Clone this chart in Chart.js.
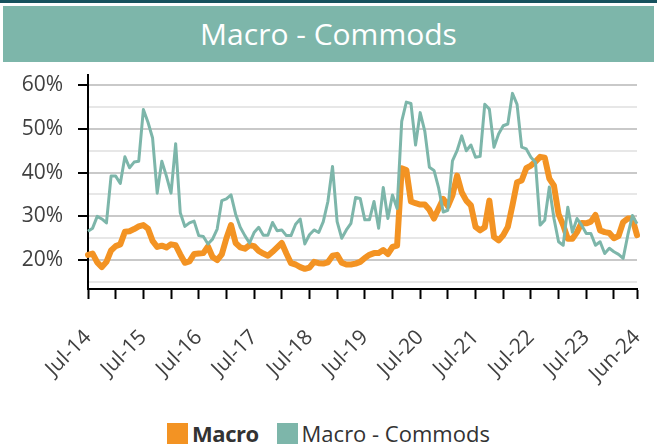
<!DOCTYPE html>
<html>
<head>
<meta charset="utf-8">
<script src="https://cdn.jsdelivr.net/npm/chart.js@4.4.1/dist/chart.umd.min.js"></script>
<style>
    body {
        margin: 0;
        width: 657px;
        height: 447px;
        background: #ffffff;
        overflow: hidden;
        position: relative;
        font-family: 'Open Sans', sans-serif;
    }
    .top-rule {
        position: absolute; left: 0; top: 0;
        width: 657px; height: 3px;
        background: #17525e;
    }
    .banner {
        position: absolute; left: 3px; top: 6px;
        width: 651px; height: 56px;
        background: #7db6aa;
        color: #ffffff;
        font-size: 30px;
        line-height: 56px;
        text-align: center;
    }
    .chart-box {
        position: absolute; left: 0; top: 62px;
        width: 657px; height: 340px;
    }
    .chart-legend {
        position: absolute; left: 0; top: 418px;
        width: 657px;
        display: flex; justify-content: center; align-items: center;
        font-size: 22px; color: #333333;
    }
    .chart-legend-item { display: flex; align-items: center; margin: 0 9px; }
    .chart-legend-color { width: 21px; height: 21px; margin-right: 4px; }
    .chart-legend-item.bold .chart-legend-label { font-weight: 700; letter-spacing: -0.5px; }
</style>
</head>
<body>
<div class="top-rule"></div>
<div class="banner">Macro - Commods</div>
<div class="chart-box"><canvas id="macro-commods-chart"></canvas></div>
<div class="chart-legend" id="macro-commods-legend"></div>

<script>
// Monthly series, Jul-14 .. Jun-24 (percent)
const MACRO = [
    21.2, 21.5, 19.5, 18.4, 19.6, 22.2, 23.2, 23.6, 26.5, 26.6, 27.1, 27.7,
    28.0, 27.2, 24.4, 23.0, 23.3, 22.9, 23.6, 23.4, 21.3, 19.4, 19.7, 21.4,
    21.5, 21.6, 23.1, 20.7, 20.0, 21.3, 25.0, 28.0, 23.9, 22.9, 22.6, 23.4,
    23.2, 22.1, 21.5, 21.0, 21.9, 22.9, 23.9, 21.5, 19.3, 19.0, 18.4, 18.0,
    18.3, 19.6, 19.3, 19.2, 19.5, 21.0, 21.2, 19.4, 19.0, 19.0, 19.2, 19.6,
    20.5, 21.2, 21.6, 21.6, 22.3, 21.4, 23.0, 23.3, 41.0, 40.6, 33.4, 33.0,
    32.7, 32.7, 31.5, 29.5, 31.8, 34.0, 32.3, 34.8, 39.3, 35.5, 33.6, 32.5,
    27.6, 26.8, 27.5, 33.6, 25.3, 24.5, 25.7, 27.6, 32.5, 37.8, 38.2, 41.0,
    41.6, 42.5, 43.6, 43.4, 38.6, 37.0, 30.5, 28.0, 24.9, 24.9, 26.4, 28.5,
    28.4, 28.8, 30.3, 26.8, 26.4, 26.2, 25.0, 25.5, 28.7, 29.5, 29.5, 25.7
];

const MACRO_COMMODS = [
    26.6, 27.3, 30.0, 29.4, 28.5, 39.2, 39.2, 37.5, 43.6, 41.1, 42.4, 42.6,
    54.4, 51.5, 47.9, 35.3, 42.6, 39.2, 35.3, 46.6, 30.8, 27.7, 28.5, 28.9,
    25.6, 25.4, 23.7, 24.8, 27.1, 33.6, 34.0, 34.9, 30.5, 27.5, 25.6, 23.9,
    26.3, 27.5, 25.7, 25.7, 28.6, 26.7, 26.9, 25.6, 25.6, 28.2, 29.4, 23.7,
    25.8, 26.9, 26.3, 28.8, 33.4, 41.4, 28.8, 25.0, 26.9, 28.4, 34.3, 34.1,
    29.2, 29.2, 33.4, 27.3, 36.6, 29.5, 34.9, 31.8, 51.7, 56.1, 55.8, 46.3,
    53.7, 49.5, 41.2, 40.5, 36.5, 31.0, 31.4, 42.7, 45.0, 48.4, 45.0, 46.3,
    43.5, 43.7, 55.6, 54.5, 45.8, 48.8, 50.7, 51.1, 58.1, 55.6, 45.8, 45.4,
    43.5, 42.3, 28.0, 29.1, 36.7, 29.5, 24.2, 23.4, 32.1, 26.4, 29.5, 28.0,
    26.1, 26.1, 23.4, 24.2, 21.5, 22.7, 21.9, 21.3, 20.4, 25.7, 30.2, 28.3
];

const TICK_LABELS = ['Jul-14', 'Jul-15', 'Jul-16', 'Jul-17', 'Jul-18', 'Jul-19',
    'Jul-20', 'Jul-21', 'Jul-22', 'Jul-23', 'Jun-24'];

const Y_TICKS = [15, 20, 25, 30, 35, 40, 45, 50, 55, 60];

const COLORS = {
    macro: '#f39323',
    commods: '#7db6aa',
    text: '#404040'
};

const FONT_FAMILY = "'Open Sans', sans-serif";

// month labels Jul-14 .. Jun-24
const MONTH_NAMES = ['Jan', 'Feb', 'Mar', 'Apr', 'May', 'Jun', 'Jul', 'Aug', 'Sep', 'Oct', 'Nov', 'Dec'];
const CATEGORIES = MACRO.map((_, k) => {
    const m = (6 + k) % 12;
    const yy = 14 + Math.floor((6 + k) / 12);
    return MONTH_NAMES[m] + '-' + yy;
});

function isMajor(ctx) {
    return ctx.tick && ctx.tick.value % 10 === 0;
}

const lastIdx = CATEGORIES.length - 1;

// área do gráfico fixa: sem padding automático dos labels
function noAutoPadding(scale) {
    scale.paddingTop = 0;
    scale.paddingBottom = 0;
    scale.paddingLeft = 0;
    scale.paddingRight = 0;
}

new Chart(document.getElementById('macro-commods-chart'), {
    type: 'line',
    data: {
        labels: CATEGORIES,
        datasets: [
            {
                label: 'Macro',
                data: MACRO,
                borderColor: COLORS.macro,
                borderWidth: 6,
                borderJoinStyle: 'round',
                borderCapStyle: 'round',
                pointRadius: 0,
                tension: 0,
                order: 1
            },
            {
                label: 'Macro - Commods',
                data: MACRO_COMMODS,
                borderColor: COLORS.commods,
                borderWidth: 3,
                borderJoinStyle: 'round',
                pointRadius: 0,
                tension: 0,
                order: 0
            }
        ]
    },
    options: {
        responsive: true,
        maintainAspectRatio: false,
        animation: false,
        layout: { padding: { top: 13, right: 20, left: 0, bottom: 0 } },
        plugins: {
            legend: { display: false },   // legenda HTML
            tooltip: { enabled: false }
        },
        scales: {
            x: {
                offset: false,
                grid: {
                    drawOnChartArea: false,
                    tickLength: 10,
                    tickWidth: 2,
                    tickColor: (ctx) => (ctx.index % 6 === 0 || ctx.index === lastIdx) ? '#000000' : 'rgba(0,0,0,0)'
                },
                border: { color: '#000000', width: 2 },
                ticks: {
                    autoSkip: false,
                    maxRotation: 45,
                    minRotation: 45,
                    padding: 26,
                    color: COLORS.text,
                    font: { family: FONT_FAMILY, size: 21 },
                    callback: function(value) {
                        const lab = this.getLabelForValue(value);
                        return TICK_LABELS.includes(lab) ? lab : '';
                    }
                },
                afterFit: (scale) => {
                    scale.height = 113;
                    noAutoPadding(scale);
                }
            },
            y: {
                min: 13.4,
                max: 62.3,
                afterBuildTicks: (scale) => {
                    scale.ticks = Y_TICKS.map(v => ({ value: v }));
                },
                grid: {
                    color: (ctx) => isMajor(ctx) ? '#c9c9c9' : '#e7e7e7',
                    lineWidth: 2,
                    tickLength: 10,
                    tickWidth: 2,
                    tickColor: (ctx) => isMajor(ctx) ? '#000000' : 'rgba(0,0,0,0)'
                },
                border: { color: '#000000', width: 2 },
                ticks: {
                    autoSkip: false,
                    padding: 15,
                    color: COLORS.text,
                    font: { family: FONT_FAMILY, size: 21 },
                    callback: (v) => v % 10 === 0 ? v + '%' : ''
                },
                afterFit: (scale) => {
                    scale.width = 88;
                    noAutoPadding(scale);
                }
            }
        }
    }
});

// legenda HTML customizada
function createLegend(containerId, items) {
    const container = document.getElementById(containerId);
    container.innerHTML = '';
    items.forEach(item => {
        const el = document.createElement('div');
        el.className = 'chart-legend-item' + (item.bold ? ' bold' : '');
        el.innerHTML = `
            <span class="chart-legend-color" style="background-color: ${item.color}"></span>
            <span class="chart-legend-label">${item.label}</span>
        `;
        container.appendChild(el);
    });
}

createLegend('macro-commods-legend', [
    { label: 'Macro', color: COLORS.macro, bold: true },
    { label: 'Macro - Commods', color: COLORS.commods }
]);
</script>
</body>
</html>
